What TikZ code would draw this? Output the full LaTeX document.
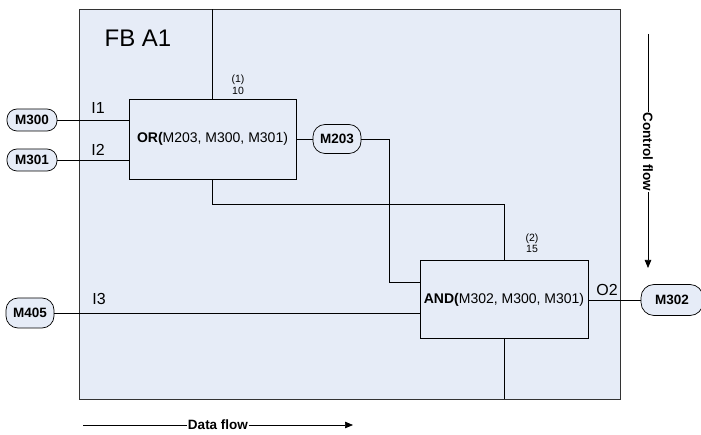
\documentclass[tikz,border=0pt]{standalone}
\usepackage{fontspec}
\setmainfont{Liberation Sans}
\usetikzlibrary{arrows.meta}
\definecolor{fbfill}{HTML}{E6ECF7}
\definecolor{fbline}{HTML}{333333}

\begin{document}
\begin{tikzpicture}[x=1pt, y=-1pt,
  fbbox/.style={draw=fbline, fill=fbfill, line width=0.9pt, inner sep=0pt},
  opbox/.style={draw=black, fill=fbfill, line width=0.7pt, inner sep=0pt, font=\fontsize{14}{16}\selectfont},
  pill/.style={draw=black, fill=fbfill, line width=0.7pt, rounded corners=10pt, inner sep=0pt, font=\fontsize{13.5}{15}\selectfont\bfseries},
  pinlabel/.style={font=\fontsize{16}{18}\selectfont},
  seqlabel/.style={align=center, font=\fontsize{10.5}{11.5}\selectfont},
  flowlabel/.style={font=\fontsize{13.5}{15}\selectfont\bfseries, inner sep=0.5pt},
  wire/.style={draw=black, line width=0.7pt},
  flow/.style={draw=black, line width=0.7pt, -{Triangle[length=8pt, width=6.5pt]}}]
\useasboundingbox (0,0) rectangle (701,435);

% function block
\node[fbbox, minimum width=541pt, minimum height=390pt] (fb) at (349.5,204) {};
\node[font=\fontsize{24}{26}\selectfont] (title) at (138,38) {FB A1};

% operations
\node[opbox, minimum width=167pt, minimum height=80pt] (or) at (212.5,139) {\textbf{OR(}M203, M300, M301)};
\node[opbox, minimum width=168pt, minimum height=78pt] (and) at (504,299.5) {\textbf{AND(}M302, M300, M301)};
\node[seqlabel] (n1) at (238,85) {(1)\\10};
\node[seqlabel] (n2) at (532,243) {(2)\\15};

% operands
\node[pill, minimum width=50pt, minimum height=22pt] (m300) at (32,120) {M300};
\node[pill, minimum width=50pt, minimum height=22pt] (m301) at (32,160) {M301};
\node[pill, minimum width=48pt, minimum height=29pt, rounded corners=12pt] (m203) at (337,139) {M203};
\node[pill, minimum width=48pt, minimum height=30pt, rounded corners=12pt] (m405) at (30,313) {M405};
\node[pill, minimum width=62pt, minimum height=31pt, rounded corners=13pt] (m302) at (672,300) {M302};

% pin names
\node[pinlabel] (i1) at (98,108) {I1};
\node[pinlabel] (i2) at (98,150) {I2};
\node[pinlabel] (i3) at (99,299) {I3};
\node[pinlabel] (o2) at (607,290) {O2};

\coordinate (j1) at (389,282);
\coordinate (j2) at (212.5,204);

% wiring
\draw[wire] (m300.east) -- (m300.east -| or.west);
\draw[wire] (m301.east) -- (m301.east -| or.west);
\draw[wire] (or.east) -- (m203.west);
\draw[wire] (m203.east) -| (j1) -- (j1 -| and.west);
\draw[wire] (m405.east) -- (m405.east -| and.west);
\draw[wire] (and.east |- m302.west) -- (m302.west);
\draw[wire] (or.north) -- (or.north |- fb.north);
\draw[wire] (or.south) -- (j2) -| (and.north);
\draw[wire] (and.south) -- (and.south |- fb.south);

% flow directions
\node[flowlabel] (dflow) at (218,425) {Data flow};
\coordinate (dstart) at (83,425);
\coordinate (dend) at (353,425);
\draw[wire] (dstart) -- (dflow.west);
\draw[flow] (dflow.east) -- (dend);
\node[flowlabel, rotate=-90] (cflow) at (648,152) {Control flow};
\coordinate (cstart) at (648,34);
\coordinate (cend) at (648,268);
\draw[wire] (cstart) -- (cflow.west);
\draw[flow] (cflow.east) -- (cend);
\end{tikzpicture}
\end{document}
